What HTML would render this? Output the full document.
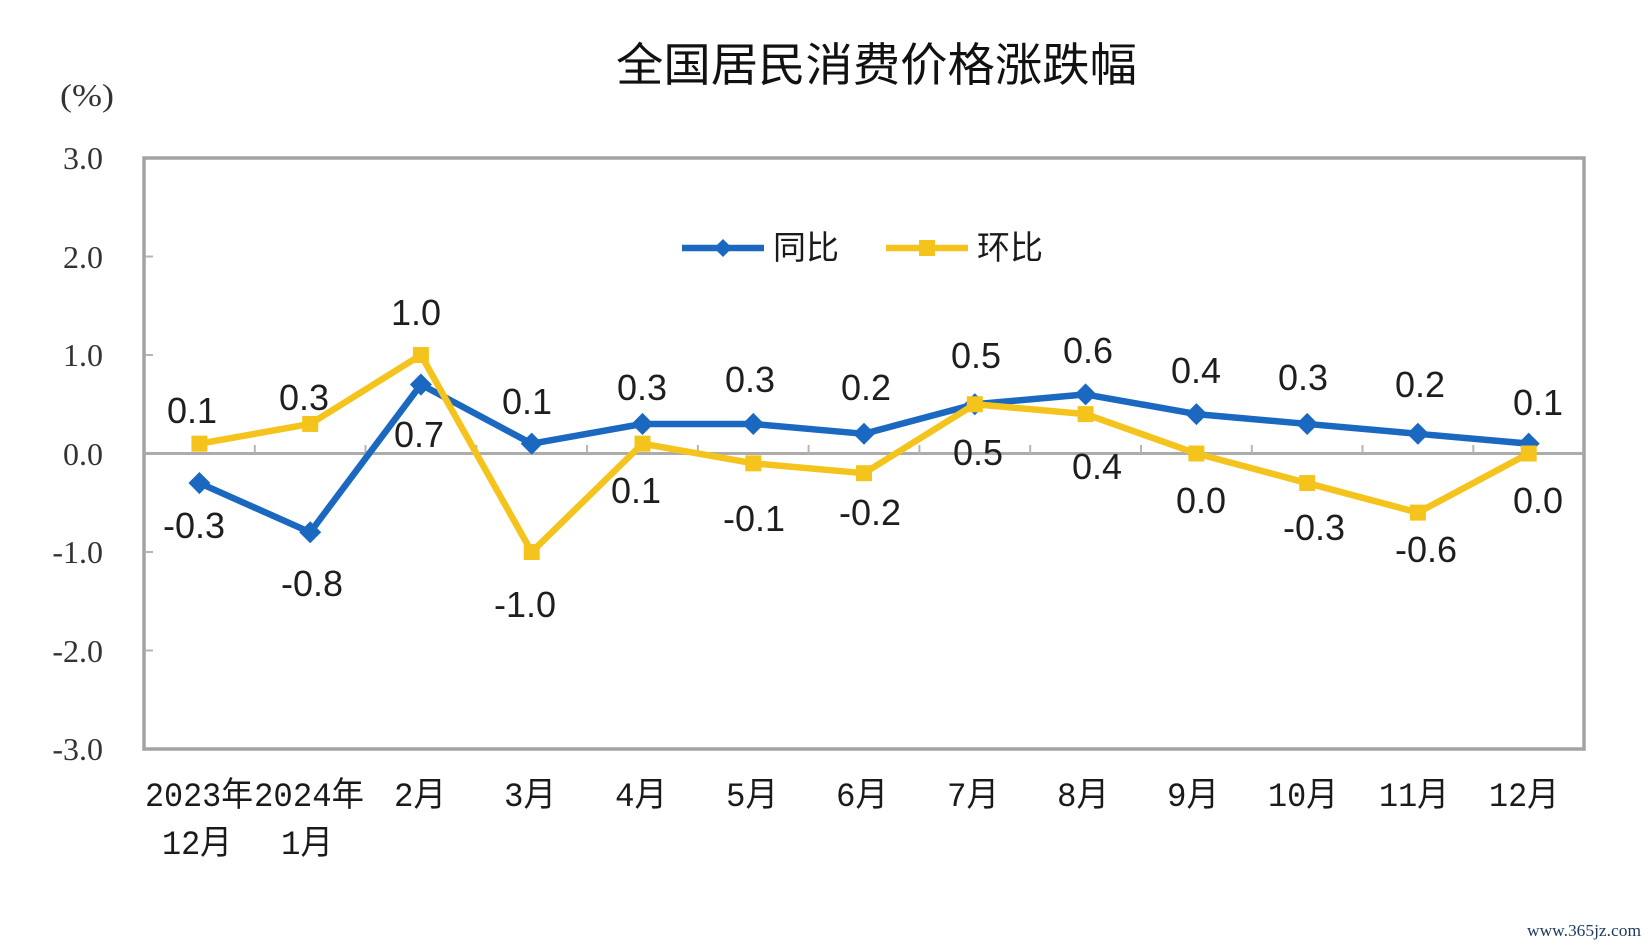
<!DOCTYPE html>
<html>
<head>
<meta charset="utf-8">
<style>
html,body{margin:0;padding:0;background:#fff;}
svg{display:block;}
</style>
</head>
<body>
<svg width="1649" height="946" viewBox="0 0 1649 946" xmlns="http://www.w3.org/2000/svg">
<rect x="0" y="0" width="1649" height="946" fill="#fff"/>

<!-- Title -->
<text x="616" y="81" font-family="'Liberation Sans','Noto Sans CJK SC',sans-serif" font-size="46" font-weight="400" fill="#111" textLength="521" lengthAdjust="spacingAndGlyphs">全国居民消费价格涨跌幅</text>

<!-- unit -->
<text x="60" y="106" font-family="'Liberation Serif',serif" font-size="32" fill="#333" textLength="54" lengthAdjust="spacingAndGlyphs">(%)</text>

<!-- Y tick labels -->
<g font-family="'Liberation Serif',serif" font-size="32" fill="#333" text-anchor="end">
<text x="103" y="169">3.0</text>
<text x="103" y="268">2.0</text>
<text x="103" y="366">1.0</text>
<text x="103" y="465">0.0</text>
<text x="103" y="563">-1.0</text>
<text x="103" y="662">-2.0</text>
<text x="103" y="760">-3.0</text>
</g>

<!-- plot frame -->
<rect x="144" y="158" width="1440" height="591" fill="none" stroke="#a3a3a3" stroke-width="3.5"/>

<!-- y ticks -->
<g stroke="#b5b5b5" stroke-width="2">
<line x1="145" y1="256.5" x2="153" y2="256.5"/>
<line x1="145" y1="355" x2="153" y2="355"/>
<line x1="145" y1="552" x2="153" y2="552"/>
<line x1="145" y1="650.5" x2="153" y2="650.5"/>
</g>

<!-- zero line -->
<line x1="144" y1="453.5" x2="1584" y2="453.5" stroke="#acacac" stroke-width="3"/>
<g stroke="#b5b5b5" stroke-width="2">
<line x1="254.8" y1="445" x2="254.8" y2="453"/>
<line x1="365.5" y1="445" x2="365.5" y2="453"/>
<line x1="476.3" y1="445" x2="476.3" y2="453"/>
<line x1="587.1" y1="445" x2="587.1" y2="453"/>
<line x1="697.9" y1="445" x2="697.9" y2="453"/>
<line x1="808.6" y1="445" x2="808.6" y2="453"/>
<line x1="919.4" y1="445" x2="919.4" y2="453"/>
<line x1="1030.2" y1="445" x2="1030.2" y2="453"/>
<line x1="1141" y1="445" x2="1141" y2="453"/>
<line x1="1251.8" y1="445" x2="1251.8" y2="453"/>
<line x1="1362.5" y1="445" x2="1362.5" y2="453"/>
<line x1="1473.3" y1="445" x2="1473.3" y2="453"/>
</g>

<!-- Legend -->
<line x1="682" y1="248" x2="764" y2="248" stroke="#1a68c0" stroke-width="6.5"/>
<polygon points="723,239 732,248 723,257 714,248" fill="#1a68c0"/>
<text x="773" y="259" font-family="'Liberation Sans','Noto Sans CJK SC',sans-serif" font-size="33" fill="#1a1a1a" textLength="66" lengthAdjust="spacingAndGlyphs">同比</text>
<line x1="886" y1="248" x2="968" y2="248" stroke="#f4c41c" stroke-width="6.5"/>
<rect x="919" y="240" width="16" height="16" fill="#f4c41c"/>
<text x="977" y="259" font-family="'Liberation Sans','Noto Sans CJK SC',sans-serif" font-size="33" fill="#1a1a1a" textLength="66" lengthAdjust="spacingAndGlyphs">环比</text>

<!-- Blue series 同比 -->
<polyline fill="none" stroke="#1a68c0" stroke-width="6.5" stroke-linejoin="round"
points="199.4,483.05 310.2,532.3 420.9,384.55 531.7,443.65 642.5,423.95 753.3,423.95 864,433.8 974.8,404.25 1085.6,394.4 1196.4,414.1 1307.2,423.95 1417.9,433.8 1528.7,443.65"/>
<g fill="#1a68c0">
<polygon points="199.4,472 210.4,483.05 199.4,494.1 188.4,483.05"/>
<polygon points="310.2,521.3 321.2,532.3 310.2,543.3 299.2,532.3"/>
<polygon points="420.9,373.5 431.9,384.55 420.9,395.6 409.9,384.55"/>
<polygon points="531.7,432.6 542.7,443.65 531.7,454.7 520.7,443.65"/>
<polygon points="642.5,412.9 653.5,423.95 642.5,435 631.5,423.95"/>
<polygon points="753.3,412.9 764.3,423.95 753.3,435 742.3,423.95"/>
<polygon points="864,422.8 875,433.8 864,444.8 853,433.8"/>
<polygon points="974.8,393.2 985.8,404.25 974.8,415.3 963.8,404.25"/>
<polygon points="1085.6,383.4 1096.6,394.4 1085.6,405.4 1074.6,394.4"/>
<polygon points="1196.4,403.1 1207.4,414.1 1196.4,425.1 1185.4,414.1"/>
<polygon points="1307.2,412.9 1318.2,423.95 1307.2,435 1296.2,423.95"/>
<polygon points="1417.9,422.8 1428.9,433.8 1417.9,444.8 1406.9,433.8"/>
<polygon points="1528.7,432.6 1539.7,443.65 1528.7,454.7 1517.7,443.65"/>
</g>

<!-- Yellow series 环比 -->
<polyline fill="none" stroke="#f4c41c" stroke-width="6.5" stroke-linejoin="round"
points="199.4,443.65 310.2,423.95 420.9,355 531.7,552 642.5,443.65 753.3,463.35 864,473.2 974.8,404.25 1085.6,414.1 1196.4,453.5 1307.2,483.05 1417.9,512.6 1528.7,453.5"/>
<g fill="#f4c41c">
<rect x="191.4" y="435.65" width="16" height="16"/>
<rect x="302.2" y="415.95" width="16" height="16"/>
<rect x="412.9" y="347" width="16" height="16"/>
<rect x="523.7" y="544" width="16" height="16"/>
<rect x="634.5" y="435.65" width="16" height="16"/>
<rect x="745.3" y="455.35" width="16" height="16"/>
<rect x="856" y="465.2" width="16" height="16"/>
<rect x="966.8" y="396.25" width="16" height="16"/>
<rect x="1077.6" y="406.1" width="16" height="16"/>
<rect x="1188.4" y="445.5" width="16" height="16"/>
<rect x="1299.2" y="475.05" width="16" height="16"/>
<rect x="1409.9" y="504.6" width="16" height="16"/>
<rect x="1520.7" y="445.5" width="16" height="16"/>
</g>

<!-- Data labels -->
<g font-family="'Liberation Sans',sans-serif" font-size="36" fill="#1e1e1e" text-anchor="middle">
<!-- yellow -->
<text x="192" y="423">0.1</text>
<text x="304" y="410">0.3</text>
<text x="416" y="325">1.0</text>
<text x="525" y="617">-1.0</text>
<text x="636" y="503">0.1</text>
<text x="754" y="531">-0.1</text>
<text x="870" y="525">-0.2</text>
<text x="978" y="465">0.5</text>
<text x="1097" y="479">0.4</text>
<text x="1201" y="513">0.0</text>
<text x="1314" y="540">-0.3</text>
<text x="1426" y="562">-0.6</text>
<text x="1538" y="513">0.0</text>
<!-- blue -->
<text x="194" y="538">-0.3</text>
<text x="312" y="596">-0.8</text>
<text x="419" y="447">0.7</text>
<text x="527" y="414">0.1</text>
<text x="642" y="400">0.3</text>
<text x="750" y="392">0.3</text>
<text x="866" y="400">0.2</text>
<text x="976" y="368">0.5</text>
<text x="1088" y="363">0.6</text>
<text x="1196" y="383">0.4</text>
<text x="1303" y="390">0.3</text>
<text x="1420" y="397">0.2</text>
<text x="1538" y="415">0.1</text>
</g>

<!-- X labels -->
<g font-family="'Liberation Mono','Noto Sans CJK SC',monospace" font-size="34" fill="#1a1a1a" text-anchor="middle">
<text x="199" y="806" textLength="108" lengthAdjust="spacingAndGlyphs">2023年</text>
<text x="309" y="806" textLength="110" lengthAdjust="spacingAndGlyphs">2024年</text>
<text x="197" y="854" textLength="70" lengthAdjust="spacingAndGlyphs">12月</text>
<text x="307" y="854" textLength="52" lengthAdjust="spacingAndGlyphs">1月</text>
<text x="420" y="806" textLength="52" lengthAdjust="spacingAndGlyphs">2月</text>
<text x="530" y="806" textLength="52" lengthAdjust="spacingAndGlyphs">3月</text>
<text x="641" y="806" textLength="52" lengthAdjust="spacingAndGlyphs">4月</text>
<text x="752" y="806" textLength="52" lengthAdjust="spacingAndGlyphs">5月</text>
<text x="862" y="806" textLength="52" lengthAdjust="spacingAndGlyphs">6月</text>
<text x="973" y="806" textLength="52" lengthAdjust="spacingAndGlyphs">7月</text>
<text x="1083" y="806" textLength="52" lengthAdjust="spacingAndGlyphs">8月</text>
<text x="1193" y="806" textLength="52" lengthAdjust="spacingAndGlyphs">9月</text>
<text x="1303" y="806" textLength="70" lengthAdjust="spacingAndGlyphs">10月</text>
<text x="1414" y="806" textLength="70" lengthAdjust="spacingAndGlyphs">11月</text>
<text x="1524" y="806" textLength="70" lengthAdjust="spacingAndGlyphs">12月</text>
</g>

<!-- watermark -->
<text x="1527" y="936" font-family="'Liberation Serif',serif" font-size="17" fill="#1f3a60" textLength="114" lengthAdjust="spacingAndGlyphs">www.365jz.com</text>
</svg>
</body>
</html>
